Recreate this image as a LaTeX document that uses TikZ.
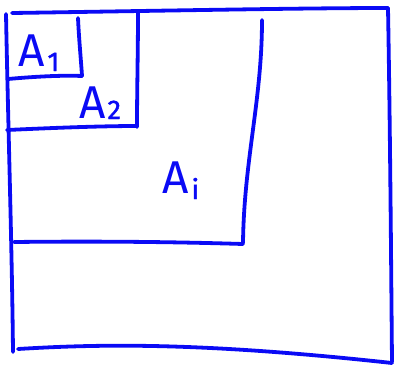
\documentclass[tikz,border=0pt]{standalone}
\usepackage{fontspec}
\setmainfont{Fira Sans}
\definecolor{pen}{RGB}{10,10,245}
\tikzset{
  stroke/.style={draw=pen, line width=3.8pt, line cap=round, line join=round},
  lbl/.style={text=pen, inner sep=0pt, anchor=base west, font=\fontsize{46}{46}\selectfont},
}
\newcommand{\sub}[2]{\raisebox{-#2pt}{\fontsize{27}{27}\selectfont\addfontfeature{FakeBold=1.5} #1}}
\begin{document}
\begin{tikzpicture}[x=1pt,y=-1pt]
\useasboundingbox (0,0) rectangle (396,365);
% outer frame
\draw[stroke] (6,14) .. controls (8,120) and (12,250) .. (13,352);
\draw[stroke] (12,13) .. controls (150,11) and (300,8) .. (388,8);
\draw[stroke] (388,8) .. controls (390,120) and (391,250) .. (392,362);
\draw[stroke] (18,349) .. controls (100,344) and (200,342) .. (392,363);
% A2 box
\draw[stroke] (138,13) .. controls (138,50) and (137,90) .. (137,127);
\draw[stroke] (7,130) .. controls (50,128) and (100,126) .. (137,126);
% A1 box
\draw[stroke] (78,18) .. controls (79,40) and (81,60) .. (82,76);
\draw[stroke] (8,79) .. controls (30,77) and (60,75) .. (82,76);
% Ai box
\draw[stroke] (262,20) .. controls (262,100) and (244,160) .. (243,243);
\draw[stroke] (14,242) .. controls (100,241) and (180,242) .. (243,244);
% labels
\node[lbl] (a1) at (18,66) {A\hspace{3pt}\sub{1}{5}};
\node[lbl] (a2) at (79,118) {A\hspace{2pt}\sub{2}{1}};
\node[lbl] (ai) at (162,193) {A\hspace{3pt}\sub{i}{6}};
\end{tikzpicture}
\end{document}
